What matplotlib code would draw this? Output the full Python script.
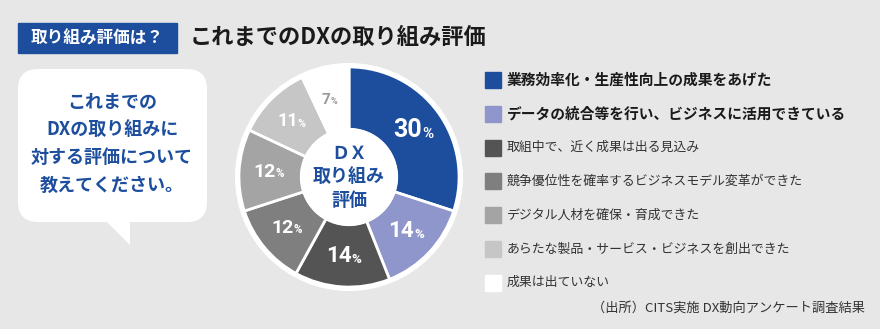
import matplotlib.pyplot as plt
from matplotlib.patches import Rectangle, FancyBboxPatch, Polygon, Circle
import numpy as np

plt.rcParams['font.family'] = ['Noto Sans CJK JP', 'DejaVu Sans']

# data
categories = [
    '業務効率化・生産性向上の成果をあげた',
    'データの統合等を行い、ビジネスに活用できている',
    '取組中で、近く成果は出る見込み',
    '競争優位性を確率するビジネスモデル変革ができた',
    'デジタル人材を確保・育成できた',
    'あらたな製品・サービス・ビジネスを創出できた',
    '成果は出ていない',
]
values = [30, 14, 14, 12, 12, 11, 7]
bubble_lines = ['これまでの', 'DXの取り組みに', '対する評価について', '教えてください。']
center_lines = ['ＤＸ', '取り組み', '評価']
tag_text = '取り組み評価は？'
title_text = 'これまでのDXの取り組み評価'
source_text = '（出所）CITS実施 DX動向アンケート調査結果'

# styles
colors = ['#1d4e9e', '#8e96cc', '#545454', '#7f7f7f', '#a4a4a4', '#c6c6c6', '#ffffff']
label_colors = ['white'] * 6 + ['#9a9a9a']
label_sizes = [18, 16, 16, 14, 14, 13, 11]
bg = '#e7e7e7'
blue = '#1d4e9e'

fig = plt.figure(figsize=(8.8, 3.29), dpi=100, facecolor=bg)
ax = fig.add_axes([0, 0, 1, 1])
ax.set_xlim(0, 880)
ax.set_ylim(329, 0)
ax.axis('off')

# header
ax.add_patch(Rectangle((18, 23), 159, 30, color=blue))
ax.text(97, 38, tag_text, color='white', fontsize=12, fontweight='bold', ha='center', va='center')
ax.text(190, 38, title_text, color='#1a1a1a', fontsize=16, fontweight='bold', ha='left', va='center')

# speech bubble
ax.add_patch(FancyBboxPatch((18, 69), 189, 153, boxstyle='round,pad=0,rounding_size=20',
                            fc='white', ec='none'))
ax.add_patch(Polygon([(103, 218), (130, 218), (130, 245)], closed=True, fc='white', ec='none'))
for i, line in enumerate(bubble_lines):
    ax.text(112, 102 + i * 27.7, line, color=blue, fontsize=13, fontweight='bold',
            ha='center', va='center')

# legend
for i, (cat, c) in enumerate(zip(categories, colors)):
    y = 80 + i * 33.8
    ax.add_patch(Rectangle((485, y - 8), 16, 16, color=c))
    if i < 2:
        ax.text(507, y, cat, color='#1a1a1a', fontsize=10.6, fontweight='bold', ha='left', va='center')
    else:
        ax.text(507, y, cat, color='#333333', fontsize=9.3, ha='left', va='center')

ax.text(865, 308, source_text, color='#333333', fontsize=9.5, ha='right', va='center')

# donut
cx, cy, half = 349, 177, 115
pax = fig.add_axes([(cx - half) / 880, (329 - cy - half) / 329, 2 * half / 880, 2 * half / 329])
wedges, _ = pax.pie(values, colors=colors, startangle=90, counterclock=False, radius=1,
                    wedgeprops=dict(width=0.57, edgecolor='white', linewidth=2))
pax.add_patch(Circle((0, 0), 1.03, color='white', zorder=0))
pax.add_patch(Circle((0, 0), 0.44, color='white', zorder=5))
pax.set_xlim(-1.045, 1.045)
pax.set_ylim(-1.045, 1.045)
pax.set_aspect('equal')
pax.axis('off')

for w, v, lc, fs in zip(wedges, values, label_colors, label_sizes):
    ang = np.deg2rad((w.theta1 + w.theta2) / 2)
    x, y = 0.72 * np.cos(ang), 0.72 * np.sin(ang)
    t = pax.text(x - 0.05, y, str(v), color=lc, fontsize=fs, fontweight='bold',
                 family=['Roboto', 'DejaVu Sans'], ha='center', va='center', zorder=6)
    pax.annotate('%', xy=(1, 0.05), xycoords=t, color=lc, fontsize=fs * 0.6, fontweight='bold',
                 family=['Roboto', 'DejaVu Sans'], ha='left', va='bottom', zorder=6)

for i, line in enumerate(center_lines):
    pax.text(0, 0.21 - i * 0.21, line, color=blue, fontsize=13, fontweight='bold',
             ha='center', va='center', zorder=6)

fig.savefig('out.png', dpi=100, facecolor=bg)
